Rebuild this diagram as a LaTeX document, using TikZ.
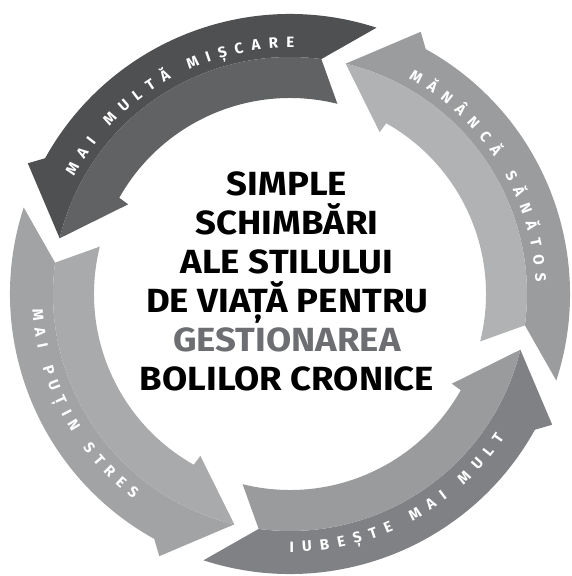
\documentclass[tikz,border=0pt]{standalone}
\usepackage{fontspec}
\setmainfont{Fira Sans}
\newfontfamily\centrefont{Fira Sans}[FakeStretch=1.09]
\usetikzlibrary{decorations.text}

\definecolor{topout}{HTML}{4F5052}
\definecolor{topin}{HTML}{616264}
\definecolor{rightout}{HTML}{9B9C9E}
\definecolor{rightin}{HTML}{B1B2B4}
\definecolor{bottomout}{HTML}{808184}
\definecolor{bottomin}{HTML}{9A9B9D}
\definecolor{leftout}{HTML}{A2A3A5}
\definecolor{leftin}{HTML}{A9AAAC}
\definecolor{midgrey}{HTML}{6D6E71}

\newcommand\arrowlabelfont{\fontsize{15}{15}\selectfont\bfseries\color{white}}

% #1 angle of the tail, #2 outer band, #3 inner band
\newcommand\cyclearrow[3]{%
  \fill[#2] (#1:280) arc[start angle=#1, end angle=#1+79, radius=280]
    -- ({#1+81.5}:293) -- ({#1+94.4}:237)
    arc[start angle=#1+94.4, end angle=#1+10.4, radius=237] -- cycle;
  \fill[#3] ({#1+10.4}:237) arc[start angle=#1+10.4, end angle=#1+94.4, radius=237]
    -- ({#1+79}:185) -- ({#1+78.6}:196)
    arc[start angle=#1+78.6, end angle=#1+4, radius=196] -- cycle;}

\tikzset{
  centreline/.style={font=\centrefont\fontsize{33.5}{39}\selectfont\bfseries, anchor=base, inner sep=0pt},
  arrowlabel/.style={decorate, decoration={text along path, text align=fit to path, text={|\arrowlabelfont|#1}}}
}

\begin{document}
\begin{tikzpicture}[x=1pt, y=1pt]
  \useasboundingbox (-290,-282) rectangle (282,294);

  \cyclearrow{72}{topout}{topin}
  \cyclearrow{162}{leftout}{leftin}
  \cyclearrow{252}{bottomout}{bottomin}
  \cyclearrow{342}{rightout}{rightin}

  \path[arrowlabel={MAI MULTĂ MIȘCARE}] (151.5:246) arc[start angle=151.5, end angle=89, radius=246];
  \path[arrowlabel={MĂNÂNCĂ SĂNĂTOS}] (61.2:246) arc[start angle=61.2, end angle=2.7, radius=246];
  \path[arrowlabel={MAI PUȚIN STRES}] (183.4:258) arc[start angle=183.4, end angle=232.6, radius=258];
  \path[arrowlabel={IUBEȘTE MAI MULT}] (269.9:258) arc[start angle=269.9, end angle=326.2, radius=258];

  \node[centreline] (simple) at (-3,99) {SIMPLE};
  \node[centreline] (schimbari) at (-3,60) {SCHIMBĂRI};
  \node[centreline] (stilului) at (-3,21) {ALE STILULUI};
  \node[centreline] (viata) at (-3,-18) {DE VIAȚĂ PENTRU};
  \node[centreline, midgrey] (gestionarea) at (-3,-57) {GESTIONAREA};
  \node[centreline] (bolilor) at (-3,-96) {BOLILOR CRONICE};
\end{tikzpicture}
\end{document}
